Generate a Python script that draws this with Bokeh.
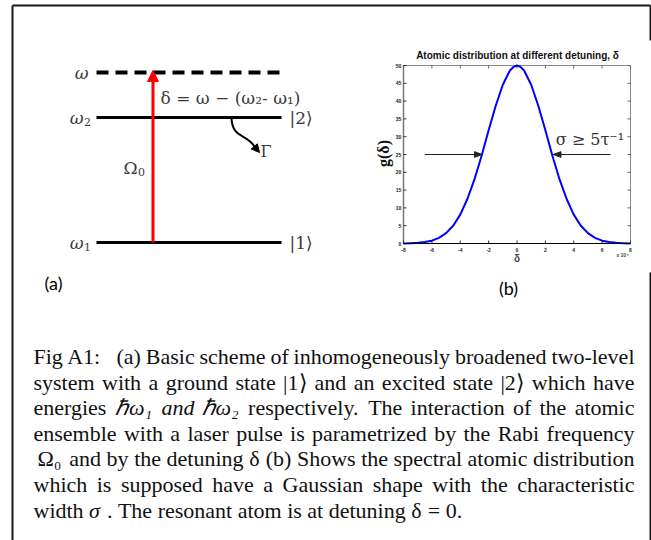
import math
from bokeh.plotting import figure
from bokeh.models import Range1d, Label, Arrow, NormalHead
from bokeh.core.properties import value
from bokeh.embed import file_html
from bokeh.resources import INLINE

# ---------------- data ----------------
delta = [-8, -7.5, -7, -6.5, -6, -5.5, -5, -4.5, -4, -3.5, -3, -2.5, -2, -1.5, -1, -0.5, -0.25, 0,
         0.25, 0.5, 1, 1.5, 2, 2.5, 3, 3.5, 4, 4.5, 5, 5.5, 6, 6.5, 7, 7.5, 8]
g = [0.0, 0.1, 0.2, 0.4, 0.8, 1.6, 2.9, 5.0, 8.1, 12.5, 18.0, 24.6, 31.8, 38.7, 44.6, 48.6, 49.6, 50.0,
     49.6, 48.6, 44.6, 38.7, 31.8, 24.6, 18.0, 12.5, 8.1, 5.0, 2.9, 1.6, 0.8, 0.4, 0.2, 0.1, 0.0]
x_ticks = [-8, -6, -4, -2, 0, 2, 4, 6, 8]
y_ticks = [0, 5, 10, 15, 20, 25, 30, 35, 40, 45, 50]
x_range_b = [-8, 8]
y_range_b = [0, 50]
half_level = 25
arrow_left = [-6.5, -2.45]
arrow_right = [6.6, 2.55]

# energy-level scheme (schematic positions, page pixels)
level_y = [72, 117, 242]          # omega (laser, dashed), omega2, omega1
level_sym = ["\u03c9", "\u03c9", "\u03c9"]
level_sub = ["", "2", "1"]
level_ket = ["", "|2\u27e9", "|1\u27e9"]
level_x = [96, 281]
laser_x = 152.5

# caption (words starting with "_" are set in italics); justified lines + last line
caption_prefix = "Fig A1:"
caption_lines = [
    "(a) Basic scheme of inhomogeneously broadened two-level",
    "system with a ground state |1\u27e9 and an excited state |2\u27e9 which have",
    "energies _\u210f\u03c9\u2081 _and _\u210f\u03c9\u2082 respectively. The interaction of the atomic",
    "ensemble with a laser pulse is parametrized by the Rabi frequency",
    "\u03a9\u2080 and by the detuning \u03b4 (b) Shows the spectral atomic distribution",
    "which is supposed have a Gaussian shape with the characteristic",
    "width _\u03c3 . The resonant atom is at detuning \u03b4 = 0.",
]
caption_start = [116, 33, 33, 33, 37, 33, 33]
caption_y = [356, 382, 407, 433, 458, 484, 510]

FRAME = "#1a1a1a"
SERIF = "Liberation Serif"
MATH = "DejaVu Serif"
W, H = 651, 540
CAP_SIZE = 22
CAP_RIGHT = 634

# approximate advance widths (per 1000 em) of the caption serif, used only to justify lines
ADV = {" ": 250, "(": 333, ")": 333, ",": 250, "-": 333, ".": 250, ":": 278, "=": 564, "|": 200,
       "A": 722, "B": 667, "F": 556, "G": 722, "R": 667, "S": 556, "T": 611,
       "a": 444, "b": 500, "c": 444, "d": 500, "e": 444, "f": 333, "g": 500, "h": 500, "i": 278,
       "j": 278, "k": 500, "l": 278, "m": 778, "n": 500, "o": 500, "p": 500, "q": 500, "r": 333,
       "s": 389, "t": 278, "u": 500, "v": 500, "w": 722, "x": 500, "y": 500, "z": 444,
       "\u03b4": 500, "\u03c3": 560, "\u03a9": 770, "\u03c9": 690, "\u210f": 630, "\u27e9": 390,
       "\u2080": 420, "\u2081": 420, "\u2082": 420}


def adv(word):
    return sum(ADV.get(ch, 500) for ch in word) * CAP_SIZE / 1000.0


f = figure(width=W, height=H, x_range=Range1d(0, W), y_range=Range1d(H, 0),
           output_backend="svg", toolbar_location=None, min_border=0,
           x_axis_location=None, y_axis_location=None)
f.grid.visible = False
f.outline_line_color = None

# outer frame
f.segment(x0=[12, 12, 650, 650], y0=[5, 5, 5, 272], x1=[12, 650, 650, 650], y1=[540, 5, 40, 540],
          line_color=FRAME, line_width=2)

# ---------------- (a) energy level diagram ----------------
f.segment(x0=[level_x[0]], y0=[level_y[0]], x1=[level_x[1]], y1=[level_y[0]],
          line_color="black", line_width=4, line_dash="12 7")
f.segment(x0=[level_x[0]] * 2, y0=level_y[1:], x1=[level_x[1]] * 2, y1=level_y[1:],
          line_color="black", line_width=3)

f.add_layout(Arrow(x_start=laser_x, y_start=level_y[2], x_end=laser_x, y_end=level_y[0] - 2,
                   line_color="#ff0000", line_width=3,
                   end=NormalHead(size=11, fill_color="#ff0000", line_color="#ff0000")))

f.bezier(x0=[231], y0=[level_y[1] + 1], x1=[254], y1=[146], cx0=[232], cy0=[138], cx1=[246], cy1=[133],
         line_color="black", line_width=2)
f.add_layout(Arrow(x_start=253, y_start=145, x_end=259, y_end=152, line_color="black", line_width=2,
                   end=NormalHead(size=8, fill_color="black", line_color="black")))

lab_col = "#3a3a3a"
math_style = dict(text_font=MATH, text_color=lab_col, text_baseline="middle")
for sym, sub, ket, yy in zip(level_sym, level_sub, level_ket, level_y):
    if sub:
        f.add_layout(Label(x=83, y=yy, text=sym, text_font_style="italic", text_font_size="17px",
                           text_align="right", **math_style))
        f.add_layout(Label(x=83.5, y=yy + 4, text=sub, text_font_size="11px", text_align="left",
                           **math_style))
    else:
        f.add_layout(Label(x=88, y=yy, text=sym, text_font_style="italic", text_font_size="17px",
                           text_align="right", **math_style))
    if ket:
        f.add_layout(Label(x=289, y=yy, text=ket, text_font_size="17px", text_align="left",
                           **math_style))
f.add_layout(Label(x=160, y=97, text="\u03b4 = \u03c9 \u2212 (\u03c9\u2082- \u03c9\u2081)",
                   text_font_size="17px", text_align="left", **math_style))
f.add_layout(Label(x=137, y=167, text="\u03a9", text_font_size="17px", text_align="right", **math_style))
f.add_layout(Label(x=137.5, y=171, text="0", text_font_size="11px", text_align="left", **math_style))
f.add_layout(Label(x=260, y=151, text="\u0393", text_font_size="16px", text_align="left", **math_style))
f.add_layout(Label(x=53, y=282, text="(a)", text_font="Lato", text_font_size="18px",
                   text_color="black", text_align="center", text_baseline="middle"))

# ---------------- (b) Gaussian distribution (sub-coordinates) ----------------
b = f.subplot(x_source=Range1d(*x_range_b), y_source=Range1d(*y_range_b),
              x_target=Range1d(403, 630), y_target=Range1d(243, 65))

x0, x1 = x_range_b
y0, y1 = y_range_b
tick_y = 0.85    # inward tick length (data units of y)
tick_x = 0.21    # inward tick length (data units of x)

b.segment(x0=[x0, x1], y0=[y1, y0], x1=[x1, x1], y1=[y1, y1], line_color="#888888", line_width=1)
b.segment(x0=[x0], y0=[y0], x1=[x0], y1=[y1], line_color="#777777", line_width=1.5)
b.segment(x0=x_ticks, y0=[y0] * len(x_ticks), x1=x_ticks, y1=[y0 + tick_y] * len(x_ticks),
          line_color="#333333", line_width=1)
b.segment(x0=x_ticks, y0=[y1] * len(x_ticks), x1=x_ticks, y1=[y1 - tick_y] * len(x_ticks),
          line_color="#666666", line_width=1)
b.segment(x0=[x0] * len(y_ticks), y0=y_ticks, x1=[x0 + tick_x] * len(y_ticks), y1=y_ticks,
          line_color="#333333", line_width=1)
b.segment(x0=[x1] * len(y_ticks), y0=y_ticks, x1=[x1 - tick_x] * len(y_ticks), y1=y_ticks,
          line_color="#666666", line_width=1)

b.line(delta, g, line_color="#0000ff", line_width=2)
b.segment(x0=[x0], y0=[y0], x1=[x1], y1=[y0], line_color="black", line_width=1)

b.text(x=x_ticks, y=[y0 - 1.3] * len(x_ticks), text=[str(t) for t in x_ticks],
       text_font=value("Liberation Sans"), text_font_style="bold", text_font_size="5px",
       text_align="center", text_baseline="top", text_color="#222222")
b.text(x=[x0 - 0.15] * len(y_ticks), y=y_ticks, text=[str(t) for t in y_ticks],
       text_font=value("Liberation Sans"), text_font_style="bold", text_font_size="5px",
       text_align="right", text_baseline="middle", text_color="#222222")

b.segment(x0=[arrow_left[0], arrow_right[0]], y0=[half_level] * 2,
          x1=[arrow_left[1], arrow_right[1]], y1=[half_level] * 2, line_color="#222222", line_width=1)
hl, hw = 0.55, 0.8
b.patches(xs=[[arrow_left[1], arrow_left[1] - hl, arrow_left[1] - hl],
              [arrow_right[1], arrow_right[1] + hl, arrow_right[1] + hl]],
          ys=[[half_level, half_level + hw, half_level - hw]] * 2,
          fill_color="#222222", line_color="#222222")

f.add_layout(Label(x=517, y=55, text="Atomic distribution at different detuning, \u03b4",
                   text_font="Liberation Sans", text_font_style="bold", text_font_size="10px",
                   text_align="center", text_baseline="middle", text_color="#111111"))
f.add_layout(Label(x=383, y=153, text="g(\u03b4)", angle=math.pi / 2, text_font=SERIF,
                   text_font_style="bold", text_font_size="16px", text_align="center",
                   text_baseline="middle", text_color="#111111"))
f.add_layout(Label(x=516.5, y=258, text="\u03b4", text_font="Liberation Sans", text_font_style="bold",
                   text_font_size="10px", text_align="center", text_baseline="middle"))
f.add_layout(Label(x=622, y=254, text="x 10\u2074", text_font="Liberation Sans", text_font_style="bold",
                   text_font_size="5px", text_align="center", text_baseline="middle"))
f.add_layout(Label(x=592, y=139, text="\u03c3  \u2265 5\u03c4\u207b\u00b9", text_font=MATH,
                   text_font_size="16px", text_align="center",
                   text_baseline="middle", text_color="#333333"))
f.add_layout(Label(x=508, y=287, text="(b)", text_font="Lato", text_font_size="18px",
                   text_align="center", text_baseline="middle", text_color="black"))

# ---------------- caption (justified word by word) ----------------
def cap_label(x, y, word, align):
    italic = word.startswith("_")
    return Label(x=x, y=y, text=word.lstrip("_"), text_align=align, text_font=SERIF,
                 text_font_style="italic" if italic else "normal",
                 text_font_size=f"{CAP_SIZE}px", text_color="#111111", text_baseline="middle")


f.add_layout(cap_label(33, caption_y[0], caption_prefix, "left"))
n_lines = len(caption_lines)
for i, (line, x_start, yy) in enumerate(zip(caption_lines, caption_start, caption_y)):
    words = line.split()
    widths = [adv(w.lstrip("_")) for w in words]
    if i == n_lines - 1:
        gap = adv(" ")
    else:
        gap = (CAP_RIGHT - x_start - sum(widths)) / (len(words) - 1)
    x = x_start
    for j, (w, wd) in enumerate(zip(words, widths)):
        if i != n_lines - 1 and j == len(words) - 1:
            f.add_layout(cap_label(CAP_RIGHT, yy, w, "right"))
        else:
            f.add_layout(cap_label(x, yy, w, "left"))
        x += wd + gap

open("out.html", "w").write(file_html(f, INLINE))
